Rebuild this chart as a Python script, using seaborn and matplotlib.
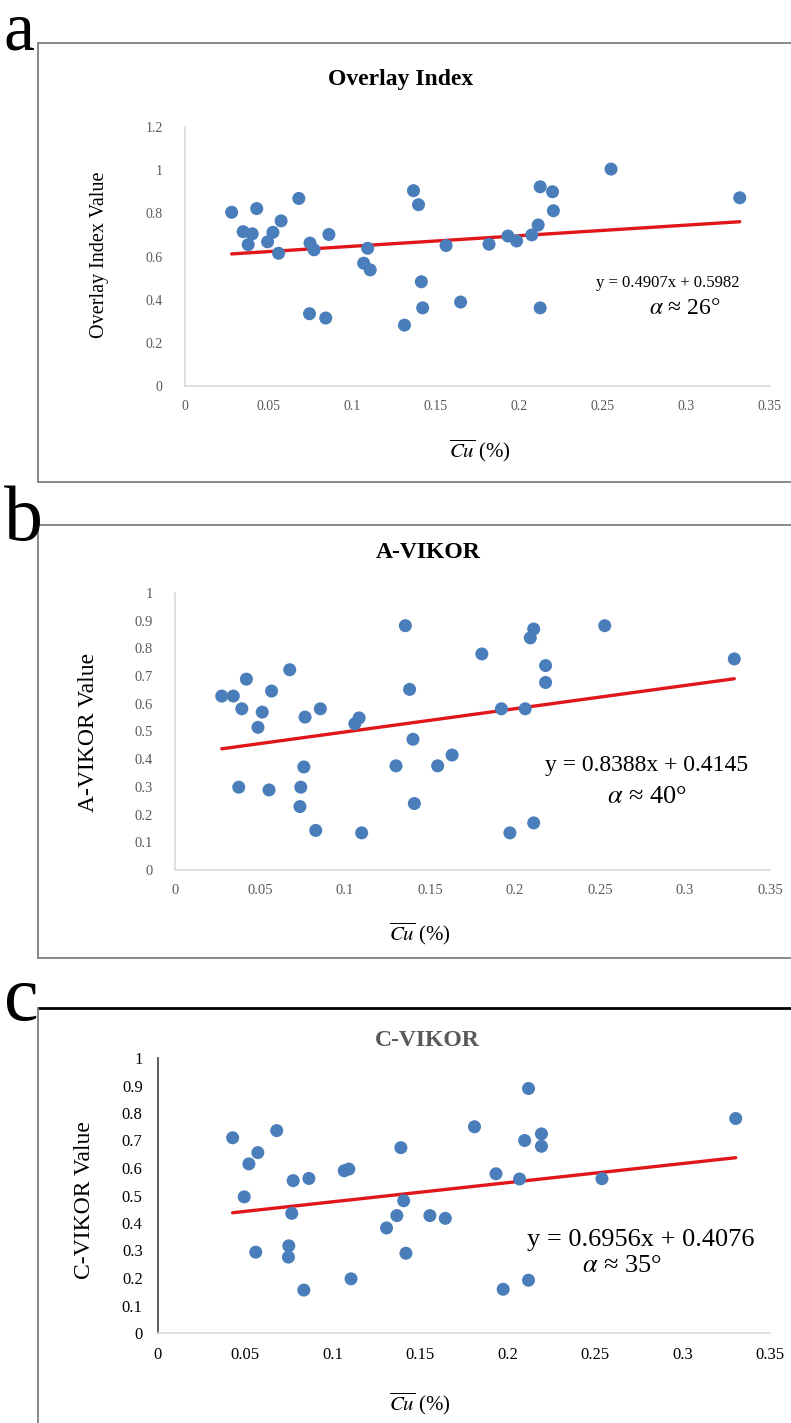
import numpy as np
import pandas as pd
import matplotlib
matplotlib.use("Agg")
import matplotlib.pyplot as plt
import seaborn as sns
from matplotlib.lines import Line2D

sns.set_theme(style="white")
plt.rcParams['font.family'] = ['Liberation Serif', 'DejaVu Serif']
plt.rcParams['mathtext.fontset'] = 'stix'

# ---------------- data ----------------
# Panel a: Overlay Index
cu_a = [0.0279, 0.0348, 0.0378, 0.0402, 0.0429, 0.0494, 0.0526, 0.0560, 0.0575,
        0.0681, 0.0745, 0.0748, 0.0772, 0.0842, 0.0861, 0.1069, 0.1093, 0.1108,
        0.1313, 0.1367, 0.1397, 0.1414, 0.1422, 0.1562, 0.1649, 0.1819, 0.1932,
        0.1984, 0.2075, 0.2113, 0.2125, 0.2125, 0.2199, 0.2204, 0.2549, 0.3319]
val_a = [0.805, 0.715, 0.655, 0.705, 0.822, 0.668, 0.712, 0.615, 0.765,
         0.869, 0.335, 0.662, 0.631, 0.315, 0.702, 0.569, 0.638, 0.538,
         0.282, 0.905, 0.840, 0.483, 0.362, 0.651, 0.389, 0.657, 0.695,
         0.672, 0.700, 0.746, 0.923, 0.362, 0.900, 0.812, 1.005, 0.872]

# Panel b: A-VIKOR
cu_b = [0.0275, 0.0343, 0.0375, 0.0393, 0.0420, 0.0488, 0.0513, 0.0553, 0.0568,
        0.0675, 0.0735, 0.0740, 0.0758, 0.0765, 0.0828, 0.0855, 0.1058, 0.1083,
        0.1098, 0.1300, 0.1355, 0.1380, 0.1400, 0.1408, 0.1545, 0.1630, 0.1805,
        0.1920, 0.1970, 0.2060, 0.2090, 0.2110, 0.2110, 0.2180, 0.2180, 0.2528,
        0.3290]
val_b = [0.628, 0.628, 0.299, 0.582, 0.689, 0.515, 0.570, 0.289, 0.646,
         0.723, 0.229, 0.299, 0.372, 0.552, 0.143, 0.582, 0.528, 0.549,
         0.134, 0.376, 0.882, 0.652, 0.472, 0.240, 0.376, 0.415, 0.780,
         0.582, 0.134, 0.582, 0.838, 0.870, 0.170, 0.738, 0.677, 0.882,
         0.762]

# Panel c: C-VIKOR
cu_c = [0.0427, 0.0493, 0.0520, 0.0559, 0.0571, 0.0679, 0.0746, 0.0748, 0.0765,
        0.0773, 0.0834, 0.0863, 0.1065, 0.1091, 0.1104, 0.1307, 0.1366, 0.1389,
        0.1405, 0.1418, 0.1555, 0.1643, 0.1810, 0.1933, 0.1974, 0.2068, 0.2097,
        0.2119, 0.2119, 0.2193, 0.2193, 0.2539, 0.3304]
val_c = [0.710, 0.495, 0.615, 0.294, 0.656, 0.736, 0.276, 0.317, 0.435,
         0.554, 0.156, 0.562, 0.590, 0.596, 0.197, 0.382, 0.427, 0.674,
         0.481, 0.290, 0.427, 0.417, 0.750, 0.579, 0.159, 0.560, 0.700,
         0.889, 0.192, 0.724, 0.679, 0.561, 0.780]

slopes = [0.4907, 0.8388, 0.6956]
intercepts = [0.5982, 0.4145, 0.4076]
angles = [26, 40, 35]
titles = ["Overlay Index", "A-VIKOR", "C-VIKOR"]
ylabels = ["Overlay Index Value", "A-VIKOR Value", "C-VIKOR Value"]
letters = ["a", "b", "c"]
x_ticks = [0, 0.05, 0.1, 0.15, 0.2, 0.25, 0.3, 0.35]
y_ticks_a = [0, 0.2, 0.4, 0.6, 0.8, 1.0, 1.2]
y_ticks_bc = [0, 0.1, 0.2, 0.3, 0.4, 0.5, 0.6, 0.7, 0.8, 0.9, 1.0]

# ---------------- layout helpers ----------------
W, H = 791, 1423
fig = plt.figure(figsize=(W / 100, H / 100), dpi=100)
fig.patch.set_facecolor("white")


def fx(px):
    return px / W


def fy(py):
    return 1 - py / H


def add_axes_px(left, right, top, bottom):
    return fig.add_axes([fx(left), fy(bottom), (right - left) / W, (bottom - top) / H])


def fmt(v):
    return f"{v:g}"


BLUE = "#4A7EBB"
RED = "#E0161B"
GREY = "#595959"

datasets = [(cu_a, val_a), (cu_b, val_b), (cu_c, val_c)]
axes_px = [(185, 770, 127, 386), (175, 770, 593, 870), (158, 770, 1058, 1333)]
yticks_list = [y_ticks_a, y_ticks_bc, y_ticks_bc]
ylims = [(0, 1.2), (0, 1.0), (0, 1.0)]

# frames and letters
frame_px = [(38, 43, 482), (38, 525, 958), (38, 1008, 1440)]
for i, (fl, ft, fb) in enumerate(frame_px):
    col = "#7F7F7F" if i < 2 else "#000000"
    lw = 1.3 if i < 2 else 2.0
    fig.add_artist(Line2D([fx(fl), fx(W + 5)], [fy(ft), fy(ft)], color=col, lw=lw))
    fig.add_artist(Line2D([fx(fl), fx(fl)], [fy(ft), fy(fb)], color="#7F7F7F", lw=1.3))
    if i < 2:
        fig.add_artist(Line2D([fx(fl), fx(W + 5)], [fy(fb), fy(fb)], color="#7F7F7F", lw=1.3))

letter_pos = [(4, 50), (4, 540), (4, 1020)]
letter_fs = [50, 56, 56]
for L, (lx, ly), lfs in zip(letters, letter_pos, letter_fs):
    fig.text(fx(lx), fy(ly), L, fontsize=lfs, ha="left", va="baseline", color="black")

title_pos = [(401, 80), (428, 553), (427, 1040)]
title_col = ["black", "black", GREY]
xlabel_pos = [(480, 451), (420, 934), (420, 1404)]
ylabel_pos = [(100, 255), (88, 732), (85, 1200)]
ylabel_fs = [14.5, 17, 17]
tick_fs = [10, 10.5, 12]
eq_pos = [(668, 283), (647, 765), (641, 1240)]
eq_fs = [12, 17, 19]
al_pos = [(685, 309), (647, 797), (622, 1266)]
al_fs = [17, 19, 19]

for i in range(3):
    left, right, top, bottom = axes_px[i]
    ax = add_axes_px(left, right, top, bottom)
    xs, ys = datasets[i]
    df = pd.DataFrame({"Cu": xs, "Value": ys})
    sns.scatterplot(data=df, x="Cu", y="Value", ax=ax, color=BLUE, s=88,
                    edgecolor="none", zorder=3, legend=False)
    # linear trendline from the published equation over the data range
    xl = np.array([min(xs), max(xs)])
    trend = pd.DataFrame({"Cu": xl, "Value": slopes[i] * xl + intercepts[i]})
    sns.lineplot(data=trend, x="Cu", y="Value", ax=ax, color=RED, lw=2.4, zorder=2)

    ax.set_xlim(0, 0.35)
    ax.set_ylim(*ylims[i])
    ax.set_xticks(x_ticks)
    ax.set_xticklabels([fmt(v) for v in x_ticks])
    ax.set_yticks(yticks_list[i])
    ax.set_yticklabels([fmt(v) for v in yticks_list[i]])
    ax.set_xlabel("")
    ax.set_ylabel("")
    ax.set_facecolor("none")
    for s in ["top", "right"]:
        ax.spines[s].set_visible(False)
    ax.spines["bottom"].set_color("#D9D9D9")
    ax.spines["bottom"].set_linewidth(1.2)
    if i < 2:
        ax.spines["left"].set_color("#D9D9D9")
        ax.spines["left"].set_linewidth(1.2)
        ax.tick_params(axis="y", length=0, pad=16)
    else:
        ax.spines["left"].set_color("#404040")
        ax.spines["left"].set_linewidth(1.2)
        ax.tick_params(axis="y", length=5, width=1, color="#404040", direction="out", pad=6)
    ax.tick_params(axis="x", length=0, pad=10)
    ax.tick_params(labelsize=tick_fs[i], labelcolor=GREY if i < 2 else "black")
    ax.grid(False)

    fig.text(fx(title_pos[i][0]), fy(title_pos[i][1]), titles[i], fontsize=17,
             fontweight="bold", ha="center", va="center", color=title_col[i])
    fig.text(fx(xlabel_pos[i][0]), fy(xlabel_pos[i][1]), r"$\overline{Cu}$ (%)",
             fontsize=15, ha="center", va="center", color="black")
    fig.text(fx(ylabel_pos[i][0]), fy(ylabel_pos[i][1]), ylabels[i], fontsize=ylabel_fs[i],
             rotation=90, ha="center", va="center", color="black")
    fig.text(fx(eq_pos[i][0]), fy(eq_pos[i][1]),
             f"y = {slopes[i]:.4f}x + {intercepts[i]:.4f}", fontsize=eq_fs[i],
             ha="center", va="center", color="black")
    fig.text(fx(al_pos[i][0]), fy(al_pos[i][1]), r"$\alpha$ ≈ " + f"{angles[i]}°",
             fontsize=al_fs[i], ha="center", va="center", color="black")

fig.savefig("out.png", dpi=100, facecolor="white")
